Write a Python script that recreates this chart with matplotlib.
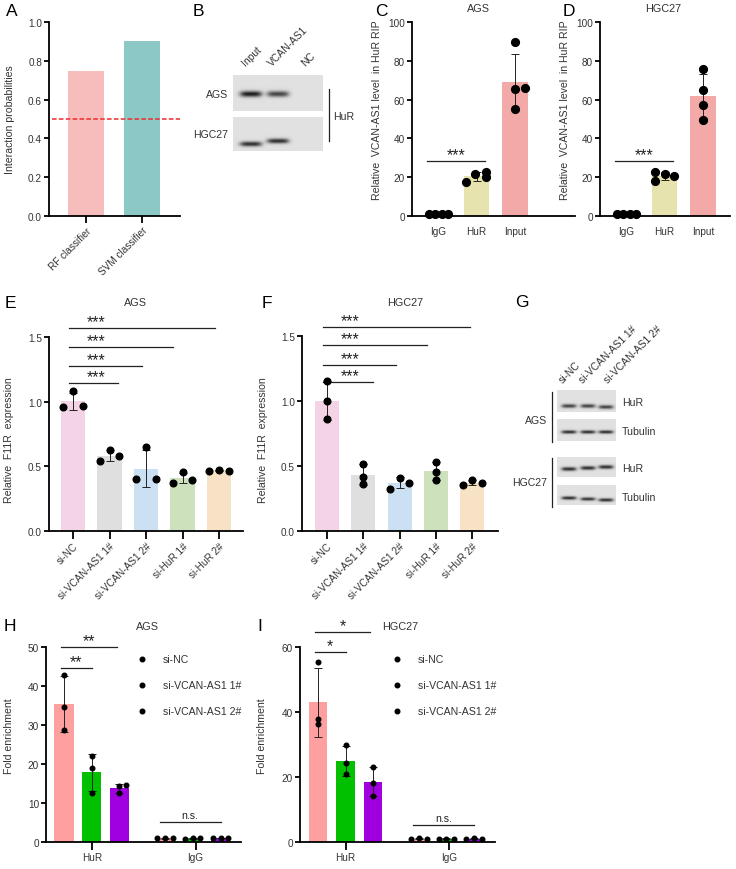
import numpy as np
import matplotlib
matplotlib.use('Agg')
import matplotlib.pyplot as plt

plt.rcParams['font.family'] = ['Liberation Sans', 'DejaVu Sans']
plt.rcParams['font.size'] = 7.2
W, H = 736, 870
TXT = '#333333'

# ---------------- data ----------------
clf_names = ['RF classifier', 'SVM classifier']
clf_prob = [0.75, 0.90]
clf_cutoff = 0.5

rip_groups = ['IgG', 'HuR', 'Input']
rip_ags = [[1.0, 1.0, 1.0, 1.0], [17.5, 21.5, 22.5, 20.0], [89.7, 65.5, 66.2, 55.0]]
rip_hgc = [[1.0, 1.0, 1.0, 1.0], [22.7, 18.0, 21.8, 20.6], [76.0, 65.0, 57.0, 49.5]]

si_groups = ['si-NC', 'si-VCAN-AS1 1#', 'si-VCAN-AS1 2#', 'si-HuR 1#', 'si-HuR 2#']
f11r_ags = [[0.96, 1.08, 0.965], [0.54, 0.627, 0.583], [0.40, 0.647, 0.40],
            [0.375, 0.455, 0.398], [0.465, 0.475, 0.465]]
f11r_hgc = [[1.151, 1.002, 0.858], [0.519, 0.416, 0.365], [0.326, 0.411, 0.372],
            [0.534, 0.457, 0.393], [0.352, 0.393, 0.372]]

chip_groups = ['HuR', 'IgG']
chip_series = ['si-NC', 'si-VCAN-AS1 1#', 'si-VCAN-AS1 2#']
fold_ags_hur = [[42.9, 34.5, 28.7], [22.0, 19.0, 12.5], [12.5, 14.4, 14.5]]
fold_ags_igg = [[0.9, 1.1, 0.95], [0.85, 1.05, 1.0], [0.9, 1.0, 1.05]]
fold_hgc_hur = [[55.3, 37.7, 36.2], [29.9, 24.3, 20.8], [23.1, 18.3, 14.2]]
fold_hgc_igg = [[0.9, 1.15, 0.95], [0.85, 1.05, 1.05], [0.9, 1.1, 0.95]]

# band intensities for the blots (0 = no band)
blot_b_lanes = ['Input', 'VCAN-AS1', 'NC']
blot_b_ags = [0.95, 0.75, 0.0]
blot_b_hgc = [0.85, 0.85, 0.0]
blot_g_lanes = ['si-NC', 'si-VCAN-AS1 1#', 'si-VCAN-AS1 2#']
blot_g_ags_hur = [0.75, 0.75, 0.75]
blot_g_ags_tub = [0.85, 0.85, 0.85]
blot_g_hgc_hur = [0.85, 0.85, 0.85]
blot_g_hgc_tub = [0.85, 0.82, 0.85]

# ---------------- helpers ----------------
fig = plt.figure(figsize=(W / 100, H / 100), dpi=100)


def px_axes(l, t, r, b):
    return fig.add_axes([l / W, 1 - b / H, (r - l) / W, (b - t) / H])


def style(ax, xtick_len=4):
    for s in ['top', 'right']:
        ax.spines[s].set_visible(False)
    for s in ['left', 'bottom']:
        ax.spines[s].set_linewidth(1.3)
    ax.tick_params(axis='y', length=3.5, width=1.3, pad=1.5, labelsize=7.2, labelcolor=TXT)
    ax.tick_params(axis='x', length=xtick_len, width=1.3, pad=1.5, labelsize=7.2, labelcolor=TXT)


def ylabel(ax, text, x_px, l, r, y_frac=0.5):
    ax.set_ylabel(text, fontsize=7.6, color=TXT)
    ax.yaxis.set_label_coords((x_px - l) / (r - l), y_frac)


def dot_bars(ax, pos, groups, colors, width, offsets, ms):
    for p, v, c, off in zip(pos, groups, colors, offsets):
        v = np.array(v)
        m = v.mean()
        sd = v.std(ddof=1)
        ax.bar(p, m, width, color=c, zorder=1)
        ax.errorbar(p, m, yerr=sd, color='#222222', capsize=3.2, elinewidth=0.7,
                    capthick=0.7, zorder=2)
        ax.plot(p + np.array(off) * width, v, 'o', color='black', ms=ms, zorder=3,
                clip_on=False)


def sig(ax, x0, x1, y, label, xt=None, fs=11.5, dy=-1):
    ax.plot([x0, x1], [y, y], color='#222222', lw=0.9, clip_on=False)
    if xt is None:
        xt = (x0 + x1) / 2
    ax.annotate(label, (xt, y), xytext=(0, dy), textcoords='offset points',
                ha='center', va='bottom', fontsize=fs, color='#222222',
                annotation_clip=False)


# ---------------- A ----------------
l, t, r, b = 49, 23, 180, 217
ax = px_axes(l, t, r, b)
ax.bar(range(2), clf_prob, 0.64, color=['#F7BDBD', '#8CC8C6'])
ax.axhline(clf_cutoff, xmin=3 / 131, xmax=1, color='#EE2A2A', ls='--', lw=1.1, dashes=(3, 1.5))
ax.set_xlim(-0.66, 1.68)
ax.set_ylim(0, 1.0)
ax.set_yticks(np.arange(0, 1.01, 0.2))
ax.set_yticklabels(['%.1f' % v for v in np.arange(0, 1.01, 0.2)])
ax.set_xticks(range(2))
ax.set_xticklabels(clf_names, rotation=45, ha='right', rotation_mode='anchor')
style(ax, xtick_len=5)
ylabel(ax, 'Interaction probabilities', 15, l, r)

# ---------------- C / D ----------------
rip_colors = ['#D9D9D9', '#E6E3AE', '#F2A9A7']
for (l, r, data, title, tx, lx, offs) in [
        (412, 575, rip_ags, 'AGS', 478, 382,
         [[-0.36, -0.1, 0.15, 0.38], [-0.41, -0.06, 0.36, 0.36], [0, 0, 0.4, 0]]),
        (600, 730, rip_hgc, 'HGC27', 663, 570,
         [[-0.36, -0.1, 0.15, 0.38], [-0.38, -0.38, 0, 0.38], [0, 0, 0, 0]])]:
    t, b = 23, 217
    c0, step = l + 26, 38.5
    ax = px_axes(l, t, r, b)
    dot_bars(ax, range(3), data, rip_colors, 0.675, offs, 5.6)
    ax.set_xlim(-(c0 - l) / step, 2 + (r - (c0 + 2 * step)) / step)
    ax.set_ylim(0, 100)
    ax.set_yticks(range(0, 101, 20))
    ax.set_xticks(range(3))
    ax.set_xticklabels(rip_groups, fontsize=7.8)
    style(ax, xtick_len=0)
    ax.tick_params(axis='x', pad=7)
    sig(ax, -0.29, 1.22, 28.4, '***')
    ylabel(ax, 'Relative  VCAN-AS1 level  in HuR RIP', lx, l, r,
           y_frac=(217 - 110.5) / 194)
    fig.text(tx / W, 1 - 9 / H, title, ha='center', va='center', fontsize=7.8, color=TXT)

# ---------------- E / F ----------------
si_colors = ['#F5D3E6', '#DFDFDF', '#CBE0F3', '#CDE1BC', '#F7E2C5']
spread = [-0.4, 0, 0.4]
stack = [0, 0, 0]
panels_ef = [
    (49, 243, 338, 532, 73, 36.5, f11r_ags, 'AGS', 135, 14,
     [spread, spread, spread, spread, spread],
     [1.145, 1.276, 1.423, 1.57], [1.23, 1.89, 2.74, 3.89], -0.11),
    (302, 498, 337, 532, 327, 36.3, f11r_hgc, 'HGC27', 405, 268,
     [stack, stack, spread, stack, spread],
     [1.15, 1.28, 1.43, 1.57], [1.28, 1.91, 2.75, 3.93], -0.11),
]
for (l, r, t, b, c0, step, data, title, tx, lx, offs, ys, ends, x0) in panels_ef:
    ax = px_axes(l, t, r, b)
    dot_bars(ax, range(5), data, si_colors, 0.66, offs, 4.8)
    ax.set_xlim(-(c0 - l) / step, 4 + (r - (c0 + 4 * step)) / step)
    ax.set_ylim(0, 1.5)
    ax.set_yticks([0, 0.5, 1.0, 1.5])
    ax.set_yticklabels(['0.0', '0.5', '1.0', '1.5'])
    ax.set_xticks(range(5))
    ax.set_xticklabels(si_groups, rotation=45, ha='right', rotation_mode='anchor')
    style(ax, xtick_len=5.5)
    for y, e in zip(ys, ends):
        sig(ax, x0, e, y, '***', xt=0.63)
    ylabel(ax, 'Relative  F11R  expression', lx, l, r, y_frac=(b - 440) / (b - t))
    fig.text(tx / W, 1 - 303 / H, title, ha='center', va='center', fontsize=7.8, color=TXT)

# ---------------- H / I ----------------
chip_colors = ['#FFA0A0', '#00C000', '#A000E0']
panels_hi = [
    (46, 241, 50, 10, fold_ags_hur, fold_ags_igg, 64, 27.7, 3.65, 'AGS', 147, 14,
     [stack, stack, [0, 0, 0.37]], 142, '**',
     [(0, 1, 44.6), (0, 2, 50.0)], 5.1),
    (300, 495, 60, 20, fold_hgc_hur, fold_hgc_igg, 318, 27.5, 3.67, 'HGC27', 400, 267,
     [stack, stack, stack], 397, '*',
     [(0, 1, 58.5), (0, 2, 64.6)], 5.2),
]
for (l, r, ymax, ystep, hur, igg, c0, step, gap, title, tx, lx, offs, legx, star,
     comps, ns_y) in panels_hi:
    t, b = 648, 843
    ax = px_axes(l, t, r, b)
    pos_hur = np.arange(3)
    pos_igg = np.arange(3) + gap
    dot_bars(ax, pos_hur, hur, chip_colors, 0.69, offs, 3.3)
    dot_bars(ax, pos_igg, igg, chip_colors, 0.69, [spread] * 3, 3.3)
    ax.set_xlim(-(c0 - l) / step, pos_igg[-1] + (r - (c0 + pos_igg[-1] * step)) / step)
    ax.set_ylim(0, ymax)
    ax.set_yticks(range(0, ymax + 1, ystep))
    ax.set_xticks([pos_hur.mean(), pos_igg.mean() + 0.1])
    ax.set_xticklabels(chip_groups, fontsize=7.6)
    style(ax, xtick_len=6)
    for i, j, y in comps:
        sig(ax, pos_hur[i] - 0.1, pos_hur[j] - 0.1 + (0.1 if j == 1 else 0), y, star)
    sig(ax, pos_igg[0] - 0.2, pos_igg[2], ns_y, 'n.s.', fs=7.6, dy=1.5)
    ylabel(ax, 'Fold enrichment', lx, l, r, y_frac=(b - 736) / (b - t))
    fig.text(tx / W, 1 - 627 / H, title, ha='center', va='center', fontsize=7.8, color=TXT)
    for k, name in enumerate(chip_series):
        yy = 660 + 26 * k
        fig.text((legx + 21) / W, 1 - yy / H, name, ha='left', va='center', fontsize=7.6,
                 color=TXT)
        fig.lines.append(plt.Line2D([legx / W], [1 - yy / H], marker='o', ms=3.3,
                                    color='black', transform=fig.transFigure))

# ---------------- overlay: blots and labels ----------------
ov = fig.add_axes([0, 0, 1, 1])
ov.patch.set_alpha(0)
ov.axis('off')


def blot(l, t, r, b, intens, lane_x, band_y, band_w, band_h, bg=0.88):
    w, h = int(r - l), int(b - t)
    yy, xx = np.mgrid[0:h, 0:w] + 0.5
    img = np.full((h, w), bg)
    for val, cx, cy in zip(intens, lane_x, band_y):
        prof = np.exp(-(((xx - (cx - l)) / (band_w / 2)) ** 4)
                      - (((yy - (cy - t)) / (band_h / 2)) ** 2))
        img -= val * 0.8 * prof
    ov.imshow(img, cmap='gray', vmin=0, vmax=1, extent=(l, r, b, t),
              interpolation='bilinear', aspect='auto')


# B
blot(233, 76, 323, 112, blot_b_ags, [251, 278, 307], [95, 95, 95], 22, 6)
blot(233, 118, 323, 152, blot_b_hgc, [251, 278, 307], [145, 142, 143], 22, 5)
ov.text(228, 95, 'AGS', ha='right', va='center', fontsize=7.6, color=TXT)
ov.text(228, 135, 'HGC27', ha='right', va='center', fontsize=7.6, color=TXT)
ov.plot([329, 329], [90, 142], color='#222222', lw=0.9)
ov.text(333, 117, 'HuR', ha='left', va='center', fontsize=7.6, color=TXT)
for lx, name in zip([247, 273, 307], blot_b_lanes):
    ov.text(lx, 68, name, rotation=45, ha='left', va='bottom', rotation_mode='anchor',
            fontsize=7.4, color=TXT)

# G
g_lanes = [569, 588, 606]
blot(557, 391, 616, 413, blot_g_ags_hur, g_lanes, [407, 407, 408], 15, 4)
blot(557, 420, 616, 442, blot_g_ags_tub, g_lanes, [433, 433, 433], 15, 3.5)
blot(557, 458, 616, 478, blot_g_hgc_hur, g_lanes, [470, 469, 468], 15, 4)
blot(557, 486, 616, 506, blot_g_hgc_tub, g_lanes, [499, 500, 501], 15, 3.5)
for y, name in [(403, 'HuR'), (432, 'Tubulin'), (469, 'HuR'), (498, 'Tubulin')]:
    ov.text(622, y, name, ha='left', va='center', fontsize=7.6, color=TXT)
ov.text(547, 421, 'AGS', ha='right', va='center', fontsize=7.6, color=TXT)
ov.text(547, 483, 'HGC27', ha='right', va='center', fontsize=7.6, color=TXT)
ov.plot([552, 552], [393, 443], color='#222222', lw=0.9)
ov.plot([552, 552], [459, 508], color='#222222', lw=0.9)
for lx, name in zip([564, 584, 609], blot_g_lanes):
    ov.text(lx, 385, name, rotation=45, ha='left', va='bottom', rotation_mode='anchor',
            fontsize=7.4, color=TXT)

# panel letters
for letter, x, y in [('A', 6, 12), ('B', 193, 12), ('C', 375, 12), ('D', 563, 12),
                     ('E', 5, 304), ('F', 262, 304), ('G', 515, 303),
                     ('H', 4, 627), ('I', 257, 627)]:
    ov.text(x, y, letter, ha='left', va='center', fontsize=12.5, color='black')

ov.set_xlim(0, W)
ov.set_ylim(H, 0)

fig.savefig('out.png', dpi=100)
